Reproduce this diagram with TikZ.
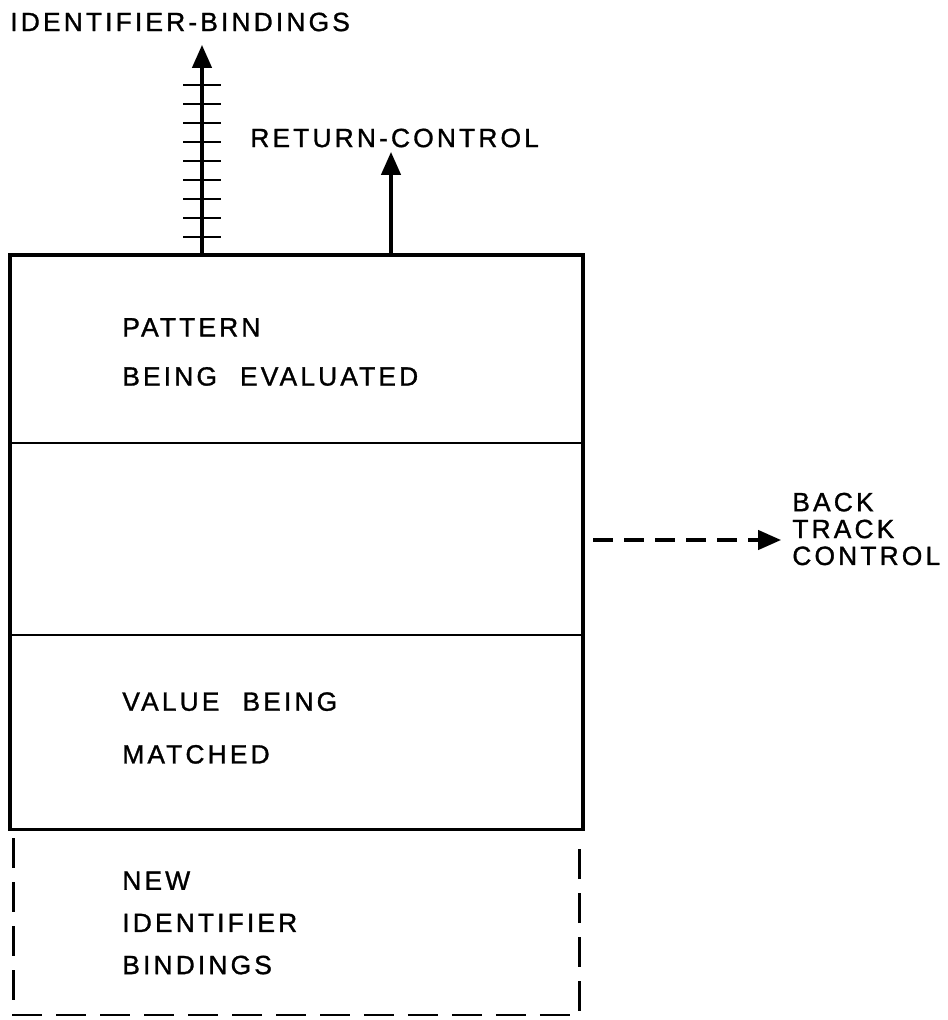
\documentclass[tikz,border=0pt]{standalone}
\usepackage{fontspec}
\newfontfamily\stencil{Liberation Sans}[LetterSpace=12, WordSpace=2.2, FakeBold=1.2]
\usepackage{tikz}
\usetikzlibrary{arrows.meta,positioning,fit}

\begin{document}
\begin{tikzpicture}[
    x=0.02cm, y=-0.02cm,
    >={Triangle[width=11pt,length=13pt]},
    section/.style={
        draw,
        line width=1.1pt,
        minimum width=11.46cm,
        inner sep=0pt,
        outer sep=0pt
    },
    lettering/.style={
        font=\stencil\fontsize{15}{18}\selectfont,
        inner sep=0pt,
        align=left,
        anchor=west
    },
    flow/.style={->, line width=1.8pt},
    dashline/.style={line width=1.7pt, dash pattern=on 0.6cm off 0.28cm}
]

\useasboundingbox (0,0) rectangle (947,1020);

% record stack
\node[section, minimum height=3.76cm] (pattern) at (296.5,349) {};
\node[section, minimum height=3.84cm, below=0pt of pattern] (middle) {};
\node[section, minimum height=3.9cm, below=0pt of middle] (value) {};
\node[draw, line width=1.8pt, inner sep=0pt, fit=(pattern)(value)] (stack) {};

\node[lettering] (patterntext) at (122,352)
{PATTERN\\[10pt]BEING EVALUATED};

\node[lettering] (valuetext) at (122,728)
{VALUE BEING\\[12pt]MATCHED};

% optional part below the record
\node[inner sep=0pt, outer sep=0pt, minimum width=11.34cm, minimum height=3.54cm]
    (newbind) at (296.5,926.5) {};
\draw[dashline] (newbind.north west) -- (newbind.south west)
    -- (newbind.south east) -- (newbind.north east);

\node[lettering] (newtext) at (122,923)
{NEW\\[6pt]IDENTIFIER\\[6pt]BINDINGS};

% outputs
\node[lettering] (idbind) at (10,22) {IDENTIFIER-BINDINGS};
\node[lettering] (retctl) at (250,138) {RETURN-CONTROL};
\node[lettering, font=\stencil\fontsize{15}{15.3}\selectfont] (backtrack) at (792,529)
{BACK\\TRACK\\CONTROL};

\coordinate (idtip) at (202,45);
\coordinate (rettip) at (391,152);
\coordinate (bttip) at (781,540);

\draw[flow] (stack.north -| idtip) -- (idtip);
\foreach \y in {85,104,...,237}
    \draw[line width=1.4pt] (183,\y) -- (221,\y);

\draw[flow] (stack.north -| rettip) -- (rettip);

\draw[->, line width=1.8pt, dash pattern=on 0.4cm off 0.22cm]
    ([xshift=5]stack.east |- bttip) -- (bttip);

\end{tikzpicture}
\end{document}
